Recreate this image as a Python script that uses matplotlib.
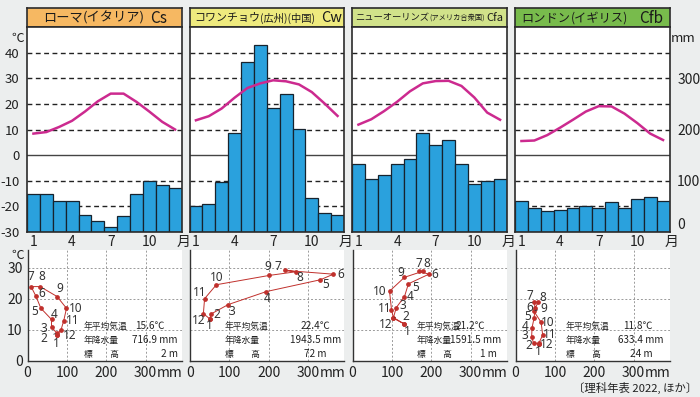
import numpy as np
import matplotlib.pyplot as plt

plt.rcParams['font.family'] = ['Noto Sans CJK JP', 'DejaVu Sans']
plt.rcParams['axes.unicode_minus'] = False

# data
months = np.arange(1, 13)
month_ticks = [1, 4, 7, 10]

city_names = ['ローマ', 'コワンチョウ', 'ニューオーリンズ', 'ロンドン']
country_names = ['(イタリア)', '(広州)(中国)', '(アメリカ合衆国)', '(イギリス)']
climate_codes = ['Cs', 'Cw', 'Cfa', 'Cfb']

temp_rome = [8.4, 9.0, 11.0, 13.4, 17.0, 21.0, 24.0, 24.0, 20.8, 17.0, 13.0, 10.0]
prec_rome = [74, 74, 61, 61, 34, 21, 9, 32, 75, 99, 92, 85]
temp_guangzhou = [13.6, 15.2, 18.2, 22.4, 26.2, 28.0, 29.2, 28.8, 27.6, 24.6, 20.1, 15.3]
prec_guangzhou = [50, 54, 97, 194, 331, 364, 242, 270, 201, 67, 37, 34]
temp_neworleans = [11.9, 14.0, 17.2, 20.8, 24.9, 28.0, 28.9, 29.0, 27.0, 22.5, 16.6, 13.8]
prec_neworleans = [132, 104, 111, 132, 142, 194, 169, 180, 132, 94, 99, 104]
temp_london = [5.5, 5.7, 7.8, 10.7, 13.8, 17.0, 19.1, 19.0, 16.2, 12.5, 8.4, 5.9]
prec_london = [60, 46, 41, 42, 47, 50, 47, 58, 46, 65, 69, 60]

mean_temp = ['15.6', '22.4', '21.2', '11.8']
annual_prec = ['716.9', '1943.5', '1591.5', '633.4']
elevation = ['2', '72', '1', '24']

temps = [temp_rome, temp_guangzhou, temp_neworleans, temp_london]
precs = [prec_rome, prec_guangzhou, prec_neworleans, prec_london]

# layout / style
W, H = 700, 397
bg = '#eceeee'
frame = '#2b2b2b'
bar_color = '#2aa1dd'
line_color = '#cc2a8f'
loop_color = '#c0302c'
title_colors = ['#f6b862', '#eeea7e', '#d1e28a', '#78bb4c']
lefts = [27, 189.5, 352, 515]
pw = 154.5

name_x = [0.104, 0.03, 0.02, 0.043]
name_fs = [9.5, 7.9, 6.7, 8.8]
country_fs = [9.5, 7.4, 5.2, 8.8]
code_x = [0.906, 0.987, 0.977, 0.958]
code_fs = [11, 10.5, 8, 11]

# label offsets (pixels, y downward) for the month numbers in the lower charts
label_off = [
    [(0, 9), (-13, 5), (-8, 2), (3, -5), (-6, 3), (5.5, -2), (0, -10), (1.5, -10),
     (3, -8), (9, 0), (8.5, 0), (8.5, 6)],
    [(0, 6.5), (6, 1), (3.5, 7), (1, 7), (5, 5), (7, 0), (-7, -3.5), (3.5, 6),
     (-1, -8.5), (0, -7.5), (-5, -6), (-4.5, 7)],
    [(3, 7), (12, -1), (7, -2), (6, 0), (7, 4), (6, 0), (0, -8), (3, -8),
     (-4, -5), (-10, 0), (-7, -1), (-8, 6)],
    [(-1, 8), (-5, 2.5), (-7, -1), (-7, -1.5), (-6, -1.5), (-5, -1), (-4.5, -6), (4, -5),
     (10, -2), (7, 0), (7, 0), (8, 2)],
]
leaders = [(0, 2), (2, 2), (3, 9)]

info_x = [84, 225, 417, 566]
info_rx = [[165, 178, 178], [330, 341, 326], [485, 501, 497], [653, 663, 653]]
info_y = [326, 340, 354]

fig = plt.figure(figsize=(W / 100, H / 100), dpi=100, facecolor=bg)


def px_axes(x0, y0, x1, y1):
    return fig.add_axes([x0 / W, 1 - y1 / H, (x1 - x0) / W, (y1 - y0) / H])


for i in range(4):
    x0 = lefts[i]
    x1 = x0 + pw

    # title box
    tb = px_axes(x0, 8, x1, 27)
    tb.set_facecolor(title_colors[i])
    tb.set_xticks([])
    tb.set_yticks([])
    for s in tb.spines.values():
        s.set_color(frame)
        s.set_linewidth(1.2)
    t1 = tb.text(name_x[i], 0.47, city_names[i], transform=tb.transAxes,
                 ha='left', va='center', fontsize=name_fs[i], color='#1a1a1a')
    tb.annotate(country_names[i], xy=(1, 0.5), xycoords=t1, ha='left', va='center',
                fontsize=country_fs[i], color='#1a1a1a')
    tb.text(code_x[i], 0.47, climate_codes[i], transform=tb.transAxes,
            ha='right', va='center', fontsize=code_fs[i], color='#1a1a1a')

    # upper chart: precipitation bars (mm axis) + temperature line (C axis)
    ax = px_axes(x0, 27, x1, 232)
    axt = ax.twinx()
    ax.set_xlim(0.5, 12.5)
    ax.set_ylim(0, 400)
    for v in [50, 100, 200, 250, 300, 350]:
        ax.axhline(v, color='#222222', lw=1.0, ls=(0, (3.5, 2.5)), zorder=1)
    ax.axhline(150, color='#444444', lw=1.0, zorder=1)
    ax.bar(months, precs[i], width=1.0, color=bar_color, edgecolor='#17232e',
           linewidth=0.9, zorder=2)
    ax.set_xticks(month_ticks)
    ax.set_xticklabels([str(m) for m in month_ticks])
    ax.tick_params(axis='x', length=0, pad=2, labelsize=10, colors='#222222')
    for s in ax.spines.values():
        s.set_color(frame)
        s.set_linewidth(1.2)
    if i == 3:
        ax.set_yticks([0, 100, 200, 300])
        ax.tick_params(axis='y', left=False, right=False, labelleft=False,
                       labelright=True, pad=2, labelsize=10, colors='#222222')
        for lab in ax.get_yticklabels():
            if lab.get_text() == '0':
                lab.set_va('bottom')
    else:
        ax.set_yticks([])
    ax.annotate('月', xy=(1, 0), xycoords='axes fraction', xytext=(2, -2.8),
                textcoords='offset pixels', ha='center', va='top', fontsize=10,
                color='#222222')

    axt.set_ylim(-30, 50)
    axt.plot(months, temps[i], color=line_color, lw=1.8, zorder=3)
    for s in axt.spines.values():
        s.set_visible(False)
    if i == 0:
        axt.set_yticks(range(-30, 50, 10))
        axt.tick_params(axis='y', left=False, right=False, labelleft=True,
                        labelright=False, pad=2, labelsize=9.5, colors='#222222')
    else:
        axt.set_yticks([])

    # lower chart: hythergraph
    bx = px_axes(x0 + 0.5, 250, x1, 361)
    bx.set_xlim(0, 391)
    bx.set_ylim(0, 35.8)
    bx.set_xticks([0, 100, 200, 300])
    bx.set_yticks([0, 10, 20, 30])
    bx.grid(True, color='#9a9a9a', lw=0.7, ls=(0, (2, 2)))
    bx.set_axisbelow(True)
    for side in ['top', 'right']:
        bx.spines[side].set_visible(False)
    for side in ['left', 'bottom']:
        bx.spines[side].set_color('#333333')
        bx.spines[side].set_linewidth(1.0)
    bx.tick_params(length=0, labelsize=10, colors='#222222')
    bx.tick_params(axis='x', pad=3.5)
    if i != 0:
        bx.tick_params(axis='y', labelleft=False)
    bx.annotate('mm', xy=(300, 0), xycoords=('data', 'axes fraction'), xytext=(11.5, -4.9),
                textcoords='offset pixels', ha='left', va='top', fontsize=10, color='#222222')

    p = list(precs[i]) + [precs[i][0]]
    t = list(temps[i]) + [temps[i][0]]
    bx.plot(p, t, color=loop_color, lw=0.7, marker='o', ms=2.4, zorder=3)
    for m in months:
        dx, dy = label_off[i][m - 1]
        kw = {}
        if (i, m) in leaders:
            kw['arrowprops'] = dict(arrowstyle='-', color='#333333', lw=0.6,
                                    shrinkA=3, shrinkB=1)
        bx.annotate(str(m), xy=(precs[i][m - 1], temps[i][m - 1]), xytext=(dx, -dy),
                    textcoords='offset pixels', ha='center', va='center',
                    fontsize=8.5, family='Noto Sans', color='#333333', zorder=4, **kw)

    # annual summary
    labels = ['年平均気温', '年降水量', '標　　高']
    values = [mean_temp[i] + '℃', annual_prec[i] + ' mm', elevation[i] + ' m']
    for r in range(3):
        fig.text(info_x[i] / W, 1 - info_y[r] / H, labels[r], ha='left', va='center',
                 fontsize=6.3, color='#222222')
        fig.text(info_rx[i][r] / W, 1 - info_y[r] / H, values[r], ha='right', va='center',
                 fontsize=7.2, color='#222222')

fig.text(18 / W, 1 - 38 / H, '℃', ha='center', va='center', fontsize=9, color='#222222')
fig.text(18 / W, 1 - 255 / H, '℃', ha='center', va='center', fontsize=9, color='#222222')
fig.text(683 / W, 1 - 38 / H, 'mm', ha='center', va='center', fontsize=9.5, color='#222222')
fig.text(697 / W, 1 - 388 / H, '〔理科年表 2022, ほか〕', ha='right', va='center',
         fontsize=8.2, color='#222222')

fig.savefig('out.png', dpi=100, facecolor=bg)
